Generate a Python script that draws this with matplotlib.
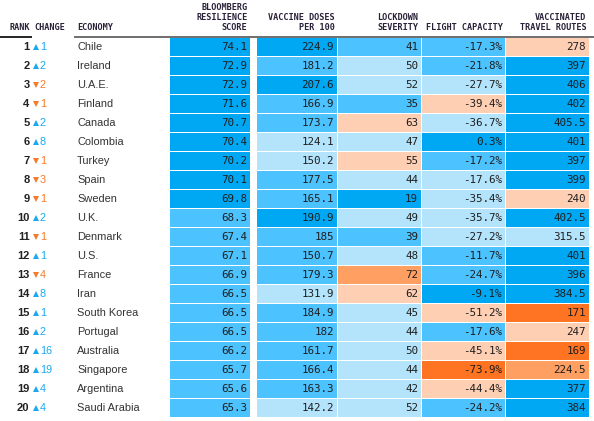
import matplotlib
matplotlib.use("Agg")
import matplotlib.pyplot as plt

# ---------------- data ----------------
ranks = list(range(1, 21))
change_dir = [1, 1, -1, -1, 1, 1, -1, -1, -1, 1, -1, 1, -1, 1, 1, 1, 1, 1, 1, 1]
change_val = [1, 2, 2, 1, 2, 8, 1, 3, 1, 2, 1, 1, 4, 8, 1, 2, 16, 19, 4, 4]
economies = ["Chile", "Ireland", "U.A.E.", "Finland", "Canada", "Colombia", "Turkey",
             "Spain", "Sweden", "U.K.", "Denmark", "U.S.", "France", "Iran",
             "South Korea", "Portugal", "Australia", "Singapore", "Argentina",
             "Saudi Arabia"]
score = [74.1, 72.9, 72.9, 71.6, 70.7, 70.4, 70.2, 70.1, 69.8, 68.3,
         67.4, 67.1, 66.9, 66.5, 66.5, 66.5, 66.2, 65.7, 65.6, 65.3]
vaccine = [224.9, 181.2, 207.6, 166.9, 173.7, 124.1, 150.2, 177.5, 165.1, 190.9,
           185, 150.7, 179.3, 131.9, 184.9, 182, 161.7, 166.4, 163.3, 142.2]
lockdown = [41, 50, 52, 35, 63, 47, 55, 44, 19, 49,
            39, 48, 72, 62, 45, 44, 50, 44, 42, 52]
flight = [-17.3, -21.8, -27.7, -39.4, -36.7, 0.3, -17.2, -17.6, -35.4, -35.7,
          -27.2, -11.7, -24.7, -9.1, -51.2, -17.6, -45.1, -73.9, -44.4, -24.2]
routes = [278, 397, 406, 402, 405.5, 401, 397, 399, 240, 402.5,
          315.5, 401, 396, 384.5, 171, 247, 169, 224.5, 377, 384]

# colour tier of each cell (0 best ... 5 worst)
score_tier = [0] * 9 + [1] * 11
vaccine_tier = [0, 1, 0, 1, 1, 2, 2, 1, 1, 0, 1, 1, 1, 2, 1, 1, 1, 1, 1, 2]
lockdown_tier = [1, 2, 2, 1, 3, 2, 3, 2, 0, 2, 1, 2, 4, 3, 2, 2, 2, 2, 2, 2]
flight_tier = [1, 1, 2, 3, 2, 0, 1, 2, 2, 2, 2, 1, 1, 0, 3, 1, 3, 5, 3, 1]
routes_tier = [3, 0, 0, 0, 0, 0, 0, 0, 3, 0, 2, 0, 0, 0, 5, 3, 5, 4, 0, 0]

headers = [["BLOOMBERG", "RESILIENCE", "SCORE"],
           ["VACCINE DOSES", "PER 100"],
           ["LOCKDOWN", "SEVERITY"],
           ["FLIGHT CAPACITY"],
           ["VACCINATED", "TRAVEL ROUTES"]]

# ---------------- style ----------------
palette = ["#00a8f4", "#4cc2fe", "#b3e4fc", "#ffcfb4", "#ff9f62", "#ff7422"]
up_col, down_col = "#1aa9f0", "#f47b28"
head_col = "#2a2138"
W, H = 594, 421

fig = plt.figure(figsize=(W / 100, H / 100), dpi=100)
ax = fig.add_axes([0, 0, 1, 1])
ax.set_xlim(0, W)
ax.set_ylim(H, 0)
ax.axis("off")

row_top0, pitch, cell_h = 37.5, 19.0, 18.0
yc = [row_top0 + pitch * i + cell_h / 2 for i in range(len(ranks))]

col_left = [170, 257, 338, 422, 506]
col_right = [250, 337, 421, 505, 589]
cols = [score, vaccine, lockdown, flight, routes]
tiers = [score_tier, vaccine_tier, lockdown_tier, flight_tier, routes_tier]
fmts = [lambda v: f"{v:.1f}", lambda v: f"{v:g}", lambda v: f"{v:g}",
        lambda v: f"{v:g}%", lambda v: f"{v:g}"]

# header rules
ax.plot([0, 32], [36.6, 36.6], color="black", lw=1.2, solid_capstyle="butt")
ax.plot([74, W], [36.6, 36.6], color="#555555", lw=1.2, solid_capstyle="butt")

mono = "DejaVu Sans Mono"
sans = "Liberation Sans"
hdr_y = [27.2, 17.6, 8.0]
hkw = dict(fontsize=6.1, family=mono, fontweight="bold", color=head_col, va="center")
ax.text(29.5, hdr_y[0], "RANK", ha="right", **hkw)
ax.text(34.5, hdr_y[0], "CHANGE", ha="left", **hkw)
ax.text(77, hdr_y[0] + 0.6, "ECONOMY", ha="left", **hkw)
for j, lines in enumerate(headers):
    for k, line in enumerate(reversed(lines)):
        ax.text(col_right[j] - 2.5, hdr_y[k], line, ha="right", **hkw)

# cells
for j in range(len(cols)):
    ax.barh(yc, col_right[j] - col_left[j], left=col_left[j], height=cell_h,
            color=[palette[t] for t in tiers[j]], linewidth=0)
    for i, v in enumerate(cols[j]):
        ax.text(col_right[j] - 3, yc[i] + 0.3, fmts[j](v), ha="right", va="center",
                fontsize=7.8, family=mono, color="#1e1e1e")

# left columns
for i in range(len(ranks)):
    ax.text(29.5, yc[i] + 0.3, str(ranks[i]), ha="right", va="center",
            fontsize=8, family=sans, fontweight="bold", color="#222222")
    c = up_col if change_dir[i] > 0 else down_col
    ax.plot([36.2], [yc[i] + 0.6], marker="^" if change_dir[i] > 0 else "v",
            color=c, ms=4.2, mew=0, linestyle="none")
    ax.text(40, yc[i] + 0.3, str(change_val[i]), ha="left", va="center",
            fontsize=7.8, family=sans, color=c)
    ax.text(77, yc[i] + 0.3, economies[i], ha="left", va="center",
            fontsize=7.9, family=sans, color="#333333")

fig.savefig("out.png", dpi=100)
